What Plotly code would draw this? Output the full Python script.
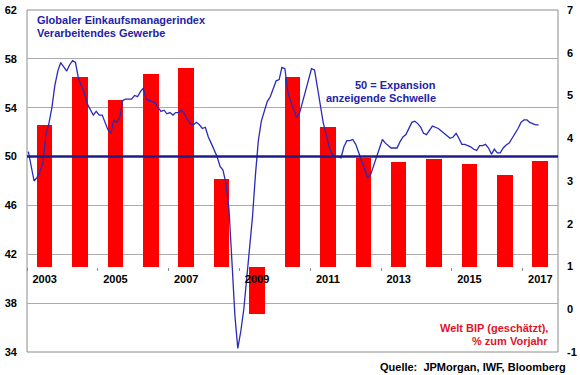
import pandas as pd
import plotly.graph_objects as go

# ---------------- data ----------------
years = list(range(2003, 2018))
gdp = [4.31, 5.43, 4.89, 5.50, 5.64, 3.05, -0.11, 5.43, 4.26, 3.54, 3.44, 3.51, 3.40, 3.14, 3.47]

pmi_2003 = [50.4, 49.0, 48.0, 48.3, 48.8, 49.5, 51.8, 52.7, 54.0, 55.8, 57.0, 57.7]
pmi_2004 = [57.3, 57.0, 57.5, 57.85, 57.7, 56.4, 55.8, 55.2, 54.3, 53.8, 53.4, 53.7]
pmi_2005 = [53.4, 53.4, 52.8, 52.2, 51.9, 53.0, 52.8, 53.2, 54.6, 54.7, 54.7, 54.7]
pmi_2006 = [55.0, 54.9, 55.3, 55.6, 54.7, 54.6, 54.5, 54.4, 54.0, 53.7, 53.8, 53.5]
pmi_2007 = [53.6, 53.4, 53.6, 53.6, 53.8, 53.5, 53.0, 52.7, 52.6, 52.8, 52.6, 52.3]
pmi_2008 = [52.4, 51.6, 51.1, 50.5, 50.0, 49.2, 48.9, 47.8, 45.7, 41.5, 37.0, 34.3]
pmi_2009 = [35.7, 37.5, 39.8, 42.5, 45.0, 48.5, 51.3, 52.9, 53.7, 54.5, 54.9, 55.6]
pmi_2010 = [56.2, 56.3, 57.3, 57.2, 55.3, 54.5, 53.9, 53.2, 53.6, 54.5, 55.4, 56.3]
pmi_2011 = [57.2, 57.1, 55.7, 54.1, 52.8, 51.8, 50.8, 50.2, 50.0, 50.0, 49.9, 50.8]
pmi_2012 = [51.3, 51.3, 51.4, 51.0, 50.3, 49.6, 48.9, 48.3, 48.5, 49.2, 49.9, 50.6]
pmi_2013 = [51.4, 51.1, 50.9, 50.7, 50.7, 50.7, 51.2, 51.6, 51.8, 52.3, 52.8, 52.9]
pmi_2014 = [52.7, 52.4, 51.9, 51.8, 52.2, 52.5, 52.4, 52.3, 52.1, 51.9, 51.7, 51.5]
pmi_2015 = [51.6, 51.9, 51.5, 51.0, 51.0, 50.9, 50.8, 50.6, 50.5, 50.9, 50.9, 51.0]
pmi_2016 = [50.7, 50.2, 50.6, 50.3, 50.3, 50.7, 50.95, 51.1, 51.5, 51.9, 52.3, 52.8]
pmi_2017 = [53.0, 53.0, 52.8, 52.7, 52.6, 52.6]

pmi = (pmi_2003 + pmi_2004 + pmi_2005 + pmi_2006 + pmi_2007 + pmi_2008 + pmi_2009
       + pmi_2010 + pmi_2011 + pmi_2012 + pmi_2013 + pmi_2014 + pmi_2015 + pmi_2016 + pmi_2017)

tick_years = [2003, 2005, 2007, 2009, 2011, 2013, 2015, 2017]
threshold = 50
gdp_axis_base = 1

# ---------------- figure ----------------
FONT = "Liberation Sans, Arial, sans-serif"
months = pd.date_range("2003-01-01", periods=len(pmi), freq="MS") + pd.Timedelta(days=14)
bar_x = [f"{y}-07-02" for y in years]
bar_width = 0.44 * 365.25 * 86400000

fig = go.Figure()
fig.add_trace(go.Bar(
    x=bar_x, y=[v - gdp_axis_base for v in gdp], base=gdp_axis_base,
    width=bar_width, marker=dict(color="#FF0000", line=dict(width=0)),
    yaxis="y", xaxis="x", showlegend=False,
))
fig.add_trace(go.Scatter(
    x=months, y=pmi, mode="lines", line=dict(color="#2A2AB8", width=1.3),
    yaxis="y2", xaxis="x", showlegend=False,
))

fig.update_layout(
    width=580, height=375,
    margin=dict(l=27, r=22, t=10, b=23, autoexpand=False),
    paper_bgcolor="white", plot_bgcolor="white",
    font=dict(family=FONT, size=11, color="black"),
    xaxis=dict(
        type="date", range=["2003-01-01", "2018-01-01"],
        anchor="free", position=0.25, automargin=False,
        tickmode="array", tickvals=[f"{y}-07-02" for y in tick_years],
        ticktext=[f"<b>{y}</b>" for y in tick_years],
        ticks="", showgrid=False, showline=False, zeroline=False,
        ticklabelstandoff=4,
        minor=dict(ticks="outside", ticklen=3, tickcolor="#909090",
                   dtick="M24", tick0="2003-01-01", showgrid=False),
        tickfont=dict(size=11, color="black"),
    ),
    yaxis=dict(
        range=[-1, 7], side="right", anchor="x", automargin=False,
        showgrid=False, zeroline=False, showline=False, ticks="",
        ticklabelstandoff=8,
        tickmode="array",
        tickvals=list(range(-1, 8)), ticktext=[f"<b>{v}</b>" for v in range(-1, 8)],
        tickfont=dict(size=11, color="black"),
    ),
    yaxis2=dict(
        range=[34, 62], side="left", overlaying="y", anchor="x", automargin=False,
        tickmode="array",
        tickvals=list(range(34, 63, 4)), ticktext=[f"<b>{v}</b>" for v in range(34, 63, 4)],
        showgrid=True, gridcolor="#ABABAB", gridwidth=1,
        zeroline=False, showline=False, ticks="", ticklabelstandoff=9,
        tickfont=dict(size=11, color="black"),
    ),
    bargap=0,
)

# plot border and 50-threshold line
fig.add_shape(type="rect", xref="paper", yref="paper", x0=0, x1=1, y0=0, y1=1,
              line=dict(color="#8C8C8C", width=1), layer="below")
fig.add_shape(type="line", xref="paper", yref="y2", x0=0, x1=1, y0=threshold, y1=threshold,
              line=dict(color="#1C1C8C", width=2.5), layer="above")

W, H = 531, 342
def px(xp):
    return (xp - 27) / W
def py(yp):
    return (352 - yp) / H

blue = "#2323A6"
red = "#E0142B"
ann = [
    ("Globaler Einkaufsmanagerindex", 35, 20.5, "left", blue),
    ("Verarbeitendes Gewerbe", 35, 33.5, "left", blue),
    ("50 = Expansion", 438, 85, "right", blue),
    ("anzeigende Schwelle", 438, 97.5, "right", blue),
    ("Welt BIP (geschätzt),", 550, 327.5, "right", red),
    ("% zum Vorjahr", 550, 340.5, "right", red),
    ("Quelle:  JPMorgan, IWF, Bloomberg", 568, 366.5, "right", "black"),
]
for text, x, y, anchor, color in ann:
    fig.add_annotation(text=f"<b>{text}</b>", xref="paper", yref="paper",
                       x=px(x), y=py(y), xanchor=anchor, yanchor="middle",
                       showarrow=False, font=dict(size=11, color=color, family=FONT))

fig.write_html("out.html", config={"displayModeBar": False},
               post_script="document.body.style.margin='0';document.body.style.overflow='hidden';")
